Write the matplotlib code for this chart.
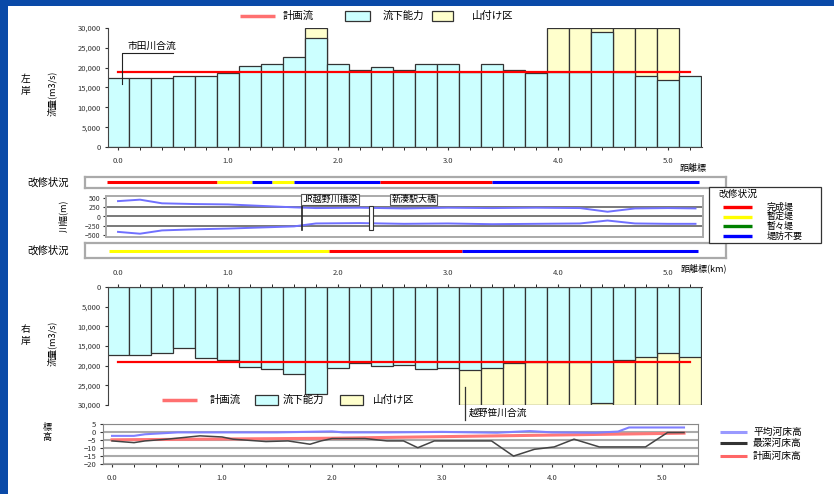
import matplotlib
matplotlib.use('Agg')
import matplotlib.pyplot as plt
from matplotlib.patches import Rectangle
from matplotlib.lines import Line2D
from matplotlib.ticker import FuncFormatter

plt.rcParams['font.family'] = ['Noto Sans CJK JP', 'DejaVu Sans']

# ---- 流下能力 (m3/s), 200 m 毎 ----
km = [0.0, 0.2, 0.4, 0.6, 0.8, 1.0, 1.2, 1.4, 1.6, 1.8, 2.0, 2.2, 2.4, 2.6,
      2.8, 3.0, 3.2, 3.4, 3.6, 3.8, 4.0, 4.2, 4.4, 4.6, 4.8, 5.0, 5.2]
cap_left = [17500, 17500, 17500, 18000, 18000, 18700, 20500, 20800, 22600, 27400,
            20800, 19400, 20200, 19300, 20800, 20800, 18800, 20800, 19400, 18700,
            18800, 18800, 29000, 18800, 17900, 16900, 18000]
cap_right = [17300, 17300, 16700, 15400, 18000, 18600, 20300, 20900, 22000, 27100,
             20700, 19200, 20000, 19800, 20900, 20700, 21100, 20700, 19400, 19000,
             19000, 19000, 29400, 18600, 17900, 16900, 17900]
yama_left = [1.8, 4.0, 4.2, 4.4, 4.6, 4.8, 5.0]
yama_right = [3.2, 3.4, 3.6, 3.8, 4.0, 4.2, 4.4, 4.6, 4.8, 5.0, 5.2]
plan_flow = 19000
flow_max = 30000

# ---- 川幅 (m) ----
width_km = [0.0, 0.2, 0.4, 0.7, 1.0, 1.3, 1.6, 1.8, 2.2, 2.6, 3.0, 3.4, 3.8,
            4.2, 4.45, 4.7, 5.0, 5.25]
width_left = [420, 460, 360, 340, 330, 290, 250, 230, 240, 220, 240, 230, 240,
              230, 130, 220, 230, 220]
width_right = [-420, -470, -380, -350, -330, -300, -270, -190, -180, -200, -190,
               -210, -200, -190, -110, -190, -200, -200]
bridge_jr = 1.67
bridge_road = 2.3

# ---- 改修状況 ----
status_names = ['完成堤', '暫定堤', '暫々堤', '堤防不要']
status_colors = ['#ff0000', '#ffff00', '#008000', '#0000ff']
status_left = [(-0.1, 0.9, 0), (0.9, 1.22, 1), (1.22, 1.4, 3), (1.4, 1.6, 1),
               (1.6, 2.38, 3), (2.38, 3.4, 0), (3.4, 5.28, 3)]
status_right = [(-0.08, 1.92, 1), (1.92, 3.13, 0), (3.13, 5.27, 3)]

# ---- 河床高 (m) ----
mean_km = [0.0, 0.2, 0.3, 0.6, 1.0, 1.5, 2.0, 2.1, 2.5, 3.0, 3.5, 3.8, 4.0,
           4.4, 4.6, 4.7, 4.9, 5.2]
mean_bed = [-2.5, -2.5, -1.5, -0.3, -0.3, -0.3, 0.3, -0.3, -0.3, 0.0, -0.5, 0.5,
            -0.3, -0.5, 0.2, 2.8, 2.8, 2.8]
deep_km = [0.0, 0.2, 0.3, 0.5, 0.8, 1.0, 1.1, 1.4, 1.6, 1.8, 1.9, 2.0, 2.3, 2.5,
           2.65, 2.78, 2.93, 3.1, 3.45, 3.65, 3.84, 4.02, 4.2, 4.43, 4.85, 5.05, 5.2]
deep_bed = [-5.7, -6.8, -5.7, -4.6, -2.5, -3.2, -4.6, -6.1, -5.7, -7.8, -5.7, -4.2,
            -4.2, -5.7, -5.7, -10.0, -5.7, -5.7, -5.7, -15.3, -11.0, -9.5, -4.6,
            -9.5, -9.5, -0.4, -0.4]
plan_km = [0.0, 1.0, 2.0, 3.0, 4.0, 5.2]
plan_bed = [-5.0, -4.5, -4.0, -3.0, -2.0, -0.8]

CYAN = '#ccffff'
YEL = '#ffffcc'
EDGE = '#333333'

W, H = 834, 494
PXK = 110  # px per km

fig = plt.figure(figsize=(W / 100, H / 100), dpi=100, facecolor='#0a4aa8')
fig.patches.append(Rectangle((8 / W, 0), 1 - 8 / W, 1 - 6 / H, transform=fig.transFigure,
                             facecolor='white', edgecolor='none', zorder=-1))


def px_axes(x0, y0, x1, y1, k0=118):
    ax = fig.add_axes([x0 / W, 1 - y1 / H, (x1 - x0) / W, (y1 - y0) / H])
    ax.set_xlim((x0 - k0) / PXK, (x1 - k0) / PXK)
    return ax


def ftext(x, y, s, **kw):
    kw.setdefault('fontsize', 7)
    kw.setdefault('va', 'center')
    fig.text(x / W, 1 - y / H, s, **kw)


def vtext(x, y, s, step=12, **kw):
    # one character per line, stacked downward
    y0 = y - step * (len(s) - 1) / 2
    for i, ch in enumerate(s):
        ftext(x, y0 + i * step, ch, ha='center', **kw)


def fline(x0, x1, y, color, lw):
    fig.add_artist(Line2D([x0 / W, x1 / W], [1 - y / H] * 2, transform=fig.transFigure,
                          color=color, lw=lw, solid_capstyle='butt'))


def fbox(x0, y0, x1, y1, fc, ec='#333333', lw=0.9):
    fig.add_artist(Rectangle((x0 / W, 1 - y1 / H), (x1 - x0) / W, (y1 - y0) / H,
                             transform=fig.transFigure, facecolor=fc, edgecolor=ec, lw=lw))


kfmt = FuncFormatter(lambda v, p: f'{int(v):,}')
km_major = [0, 1, 2, 3, 4, 5]
km_labels = [f'{v:.1f}' for v in km_major]


def flow_axes(ax, cap, yama):
    ax.bar(yama, [flow_max] * len(yama), width=0.2, color=YEL, edgecolor=EDGE, lw=0.9, zorder=1)
    ax.bar(km, cap, width=0.2, color=CYAN, edgecolor=EDGE, lw=0.9, zorder=2)
    ax.plot([km[0], km[-1]], [plan_flow] * 2, color='#ff0000', lw=1.6, zorder=3)
    ax.set_yticks(range(0, flow_max + 1, 5000))
    ax.yaxis.set_major_formatter(kfmt)
    ax.set_xticks(km_major)
    ax.set_xticklabels(km_labels)
    ax.set_xticks(km, minor=True)
    ax.tick_params(labelsize=5.5, length=2, colors='#333333', pad=3)
    ax.tick_params(axis='x', which='both', length=2, pad=5)
    for s in ax.spines.values():
        s.set_color('#444444')


# 左岸 flow capacity
ax1 = px_axes(108, 28, 702, 147)
flow_axes(ax1, cap_left, yama_left)
ax1.set_ylim(0, flow_max)
ax1.spines['top'].set_visible(False)
ax1.spines['right'].set_visible(False)
ax1.plot([0.04, 0.04, 0.5], [16000, 23700, 23700], color='#222222', lw=0.8, zorder=4)
ax1.text(0.09, 24200, '市田川合流', fontsize=7, va='bottom', zorder=5)

# 右岸 flow capacity (downward)
ax2 = px_axes(108, 287, 702, 405)
flow_axes(ax2, cap_right, yama_right)
ax2.set_ylim(flow_max, 0)
ax2.xaxis.set_ticks_position('top')
ax2.spines['bottom'].set_visible(False)
ax2.spines['right'].set_visible(False)
conf_km = 3.15
ax2.plot([conf_km, conf_km], [25500, 33800], color='#333333', lw=0.9, clip_on=False, zorder=4)
ax2.text(conf_km + 0.04, 32000, '越野笹川合流', fontsize=7, va='center', clip_on=False)

# 改修状況 strips
for (y0, y1), segs in [((177, 188), status_left), ((243, 258), status_right)]:
    ax = px_axes(85, y0, 726, y1)
    ax.set_ylim(0, 1)
    for a, b, i in segs:
        ax.plot([a, b], [0.5, 0.5], color=status_colors[i], lw=2.2, solid_capstyle='butt')
    ax.set_xticks([])
    ax.set_yticks([])
    for s in ax.spines.values():
        s.set_color('#aaaaaa')
        s.set_linewidth(1.6)
    ftext(27, (y0 + y1) / 2, '改修状況', fontsize=7.5)

# 川幅
ax3 = px_axes(106, 196, 703, 237)
ax3.set_ylim(-560, 560)
for v in [250, 0, -250]:
    ax3.axhline(v, color='#555555', lw=1.1, zorder=1)
ax3.plot(width_km, width_left, color='#7070ff', lw=1.4, zorder=2)
ax3.plot(width_km, width_right, color='#7070ff', lw=1.4, zorder=2)
ax3.plot([bridge_jr, bridge_jr], [350, -380], color='#222222', lw=1.2, zorder=3)
ax3.bar(bridge_road, 680, bottom=-380, width=0.035, color='white', edgecolor='#333333',
        lw=0.8, zorder=4)
box = dict(boxstyle='square,pad=0.12', fc='white', ec='#555555', lw=0.8)
ax3.text(1.93, 470, 'JR越野川橋梁', ha='center', va='center', fontsize=6.5, bbox=box,
         clip_on=False, zorder=5)
ax3.text(2.69, 470, '新湊駅大橋', ha='center', va='center', fontsize=6.5, bbox=box,
         clip_on=False, zorder=5)
ax3.set_xticks([])
ax3.set_yticks([500, 250, 0, -250, -500])
ax3.tick_params(labelsize=5, length=2, pad=2, colors='#333333')
for s in ax3.spines.values():
    s.set_color('#aaaaaa')
    s.set_linewidth(1.4)
ftext(63, 216, '川幅(m)', fontsize=6.5, rotation=90, ha='center')

# 河床高
ax6 = px_axes(103, 424, 698, 464, k0=112)
ax6.set_ylim(-20.3, 5)
for v in [5, 0, -5, -10, -15, -20]:
    ax6.axhline(v, color='#aaaaaa', lw=1.5, zorder=1)
ax6.plot(plan_km, plan_bed, color='#ff7777', lw=2.2, zorder=2)
ax6.plot(deep_km, deep_bed, color='#444444', lw=1.1, zorder=3)
ax6.plot(mean_km, mean_bed, color='#8080ff', lw=1.5, zorder=4)
ax6.set_yticks([5, 0, -5, -10, -15, -20])
ax6.set_xticks(km_major)
ax6.set_xticklabels(km_labels)
ax6.set_xticks(km, minor=True)
ax6.tick_params(labelsize=5.5, length=2, pad=3, colors='#333333')
ax6.tick_params(axis='x', which='both', length=2, pad=5)
for s in ax6.spines.values():
    s.set_color('#888888')

# axis titles
vtext(26, 85, '左岸', fontsize=7)
ftext(52, 93, '流量(m3/s)', fontsize=6.5, rotation=90, ha='center')
vtext(26, 335, '右岸', fontsize=7)
ftext(52, 343, '流量(m3/s)', fontsize=6.5, rotation=90, ha='center')
vtext(47, 432, '標高', step=10, fontsize=6.5)
ftext(680, 168, '距離標', fontsize=6.5)
ftext(681, 268, '距離標(km)', fontsize=6.5)

# flow legends
for y, (l0, l1, t0, c0, c1, t1, y0_, y1_, t2) in [
        (16, (240, 275, 283, 345, 370, 383, 432, 453, 472)),
        (400, (162, 197, 210, 255, 278, 283, 340, 363, 373))]:
    fline(l0, l1, y, '#ff7070', 2.5)
    ftext(t0, y, '計画流', fontsize=7.5)
    fbox(c0, y - 5, c1, y + 5, CYAN)
    ftext(t1, y, '流下能力', fontsize=7.5)
    fbox(y0_, y - 5, y1_, y + 5, YEL)
    ftext(t2, y, '山付け区', fontsize=7.5)

# 改修状況 legend
fbox(709, 187, 821, 243, 'white', ec='#333333', lw=0.9)
ftext(718, 194, '改修状況', fontsize=7)
for i, (name, col) in enumerate(zip(status_names, status_colors)):
    yy = 207 + i * 9.7
    fline(723, 752, yy, col, 2.4)
    ftext(767, yy, name, fontsize=6.5)

# 河床高 legend
for yy, name, col in [(432, '平均河床高', '#9999ff'), (443, '最深河床高', '#333333'),
                      (456, '計画河床高', '#ff6666')]:
    fline(720, 747, yy, col, 2.2)
    ftext(753, yy, name, fontsize=7)

fig.savefig('out.png', dpi=100, facecolor=fig.get_facecolor())
